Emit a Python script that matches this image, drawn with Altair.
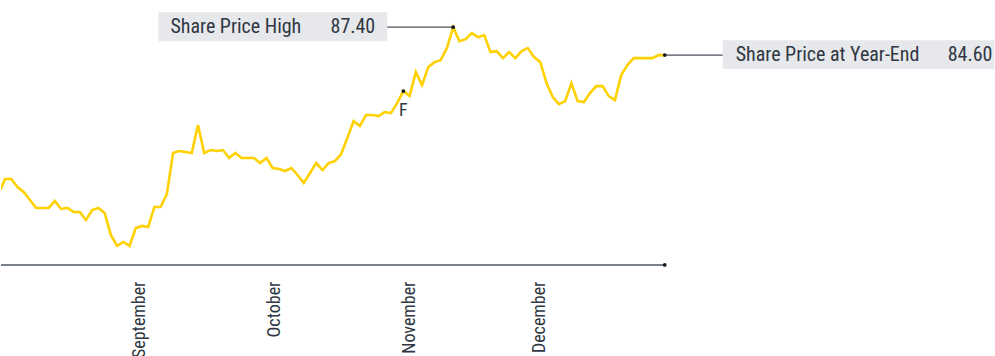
import altair as alt
import pandas as pd

# Daily closing share price (trading days, evenly spaced)
prices = [
    70.8, 72.2, 72.2, 71.4, 70.9, 70.1, 69.3, 69.3, 69.3, 70.0,
    69.2, 69.3, 68.9, 68.9, 68.1, 69.1, 69.3, 68.8, 66.6, 65.5,
    65.9, 65.5, 67.3, 67.5, 67.4, 69.4, 69.4, 70.7, 74.8, 75.0,
    74.9, 74.8, 77.6, 74.8, 75.1, 75.0, 75.1, 74.3, 74.8, 74.3,
    74.3, 74.3, 73.8, 74.3, 73.3, 73.2, 73.0, 73.3, 72.6, 71.8,
    72.8, 73.8, 73.1, 73.8, 74.0, 74.7, 76.3, 78.0, 77.5, 78.6,
    78.6, 78.5, 78.9, 78.8, 79.8, 81.0, 80.5, 82.9, 81.6, 83.4,
    83.9, 84.1, 85.3, 87.4, 86.0, 86.2, 86.8, 86.4, 86.6, 84.9,
    85.0, 84.3, 84.9, 84.3, 85.0, 85.3, 84.4, 83.9, 81.8, 80.4,
    79.7, 80.0, 81.8, 80.0, 79.9, 80.8, 81.5, 81.5, 80.5, 80.1,
    82.6, 83.6, 84.3, 84.3, 84.3, 84.3, 84.6, 84.6,
]

month_names = ["September", "October", "November", "December"]
month_ticks = [22.6, 44.3, 66.0, 86.9]

marker_labels = ["F"]
marker_index = [65]

high_label = "Share Price High"
high_value = 87.40
yearend_label = "Share Price at Year-End"
yearend_value = 84.60

X_MIN, X_MAX = 0.35, 160.06
Y_MIN, Y_MAX = 63.6, 90.1

FONT = "Liberation Sans Narrow, Roboto Condensed, DejaVu Sans Condensed, sans-serif"
TEXT = "#2f3742"
YELLOW = "#FFD100"
BOX = "#E6E8EB"

df = pd.DataFrame({"i": list(range(len(prices))), "price": prices})

high_i = int(max(range(len(prices)), key=lambda k: prices[k]))
end_i = len(prices) - 1

label_expr = " : ".join(
    f"datum.value == {t} ? '{n}'" for t, n in zip(month_ticks, month_names)
) + " : ''"

XAXIS = alt.Axis(
    values=month_ticks,
    labelExpr=label_expr,
    labelAngle=-90,
    labelFont=FONT,
    labelFontSize=18,
    labelColor=TEXT,
    labelPadding=16,
    ticks=False,
    domain=False,
    grid=False,
    title=None,
    labelOverlap=False,
)


def X(field):
    return alt.X(field, scale=alt.Scale(domain=[X_MIN, X_MAX], nice=False, zero=False), axis=XAXIS)


def Y(field):
    return alt.Y(field, scale=alt.Scale(domain=[Y_MIN, Y_MAX], nice=False, zero=False), axis=None)


line = alt.Chart(df).mark_line(color=YELLOW, strokeWidth=2.6, clip=True).encode(
    x=X("i:Q"), y=Y("price:Q")
)

# baseline axis rule
axis_df = pd.DataFrame({"x": [X_MIN], "x2": [end_i], "y": [Y_MIN]})
axis_rule = alt.Chart(axis_df).mark_rule(color="#7B8189", strokeWidth=2).encode(
    x=X("x:Q"), x2="x2:Q", y=Y("y:Q")
)

hi_df = pd.DataFrame({
    "i": [high_i], "i2": [high_i], "price": [prices[high_i]], "p2": [prices[high_i]],
    "label": [high_label], "val": [f"{high_value:.2f}"],
})
ye_df = pd.DataFrame({
    "i": [end_i], "i2": [end_i], "price": [prices[end_i]], "p2": [prices[end_i]],
    "label": [yearend_label], "val": [f"{yearend_value:.2f}"],
})

hi_box = alt.Chart(hi_df).mark_rect(
    color=BOX, xOffset=-295, x2Offset=-66, yOffset=-15, y2Offset=14
).encode(x=X("i:Q"), x2="i2:Q", y=Y("price:Q"), y2="p2:Q")
hi_conn = alt.Chart(hi_df).mark_rule(
    color="#4A525C", strokeWidth=1.2, xOffset=-66, x2Offset=0
).encode(x=X("i:Q"), x2="i2:Q", y=Y("price:Q"))
hi_text = alt.Chart(hi_df).mark_text(
    align="left", baseline="middle", dx=-283, font=FONT, fontSize=20, color=TEXT
).encode(x=X("i:Q"), y=Y("price:Q"), text="label:N")
hi_val = alt.Chart(hi_df).mark_text(
    align="right", baseline="middle", dx=-78, font=FONT, fontSize=20, color=TEXT
).encode(x=X("i:Q"), y=Y("price:Q"), text="val:N")

ye_box = alt.Chart(ye_df).mark_rect(
    color=BOX, xOffset=58, x2Offset=330, yOffset=-15, y2Offset=14
).encode(x=X("i:Q"), x2="i2:Q", y=Y("price:Q"), y2="p2:Q")
ye_conn = alt.Chart(ye_df).mark_rule(
    color="#7B8189", strokeWidth=1.8, xOffset=0, x2Offset=58
).encode(x=X("i:Q"), x2="i2:Q", y=Y("price:Q"))
ye_text = alt.Chart(ye_df).mark_text(
    align="left", baseline="middle", dx=71, font=FONT, fontSize=20, color=TEXT
).encode(x=X("i:Q"), y=Y("price:Q"), text="label:N")
ye_val = alt.Chart(ye_df).mark_text(
    align="right", baseline="middle", dx=328, font=FONT, fontSize=20, color=TEXT
).encode(x=X("i:Q"), y=Y("price:Q"), text="val:N")

# marker points
mk_df = pd.DataFrame({
    "i": marker_index,
    "price": [prices[k] for k in marker_index],
    "label": marker_labels,
})
dots_df = pd.DataFrame({
    "i": [high_i, end_i, end_i] + marker_index,
    "price": [prices[high_i], prices[end_i], Y_MIN] + [prices[k] for k in marker_index],
})
dots = alt.Chart(dots_df).mark_circle(color="#151a20", size=14, opacity=1).encode(
    x=X("i:Q"), y=Y("price:Q")
)
mk_text = alt.Chart(mk_df).mark_text(
    align="center", baseline="middle", dy=20, font=FONT, fontSize=18, color=TEXT
).encode(x=X("i:Q"), y=Y("price:Q"), text="label:N")

chart = alt.layer(
    axis_rule, hi_box, ye_box, hi_conn, ye_conn, line, dots,
    hi_text, hi_val, ye_text, ye_val, mk_text,
).properties(
    width=995, height=265, padding=0,
).configure_view(stroke=None)

chart.save("out.html", embed_options={"renderer": "svg", "actions": False})
